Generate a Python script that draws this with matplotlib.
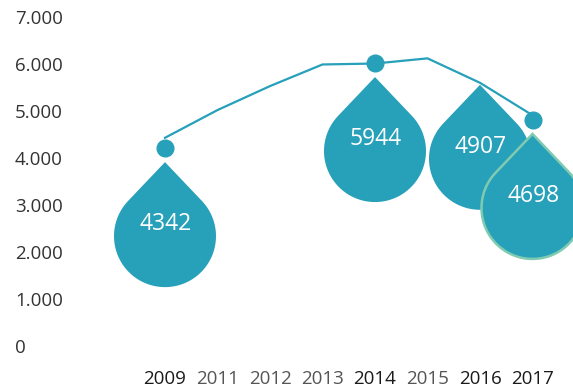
import numpy as np
import matplotlib
matplotlib.use('Agg')
import matplotlib.pyplot as plt
from matplotlib.path import Path
from matplotlib.patches import PathPatch
from matplotlib.transforms import Affine2D, ScaledTranslation

plt.rcParams['font.family'] = ['Open Sans', 'DejaVu Sans']

# data
years = ['2009', '2011', '2012', '2013', '2014', '2015', '2016', '2017']
line_values = [4430, 5020, 5530, 5990, 6010, 6120, 5600, 4910]
dot_years = ['2009', '2014', '2017']
dot_values = [4210, 6020, 4810]
drop_years = ['2009', '2014', '2016', '2017']
drop_anchor = [4210, 6020, 5600, 4810]
drop_labels = [4342, 5944, 4907, 4698]
highlight = ['2009', '2014', '2016', '2017']
yticks = [0, 1000, 2000, 3000, 4000, 5000, 6000, 7000]
ytick_labels = ['0', '1.000', '2.000', '3.000', '4.000', '5.000', '6.000', '7.000']

teal = '#27a0b9'
mint = '#7fcbb2'

W, H = 573, 387
fig = plt.figure(figsize=(W / 100, H / 100), dpi=100)
# axes: category 0 at x=165px, 52.5px per step; y 0 at 346px, 7000 at 17px
left_px, right_px = 100, 573
ax = fig.add_axes([left_px / W, (H - 346) / H, (right_px - left_px) / W, 329 / H])
ax.set_xlim((left_px - 165) / 52.5, (right_px - 165) / 52.5)
ax.set_ylim(0, 7000)
for s in ax.spines.values():
    s.set_visible(False)

xi = np.arange(len(years))
pos = {y: i for i, y in enumerate(years)}

# drop shape in pixels: circle r=51, tip 74px above the centre
r, d = 51.0, 74.0
phi = np.arccos(r / d)
a0 = np.pi / 2 - phi
ang = np.linspace(a0, a0 - (2 * np.pi - 2 * phi), 80)
verts = [(0, d)] + [(r * np.cos(a), r * np.sin(a)) for a in ang] + [(0, d)]
codes = [Path.MOVETO] + [Path.LINETO] * (len(verts) - 2) + [Path.CLOSEPOLY]
drop_path = Path(verts, codes)

for yr, v, lab in zip(drop_years, drop_anchor, drop_labels):
    gap = 2 if yr == '2016' else 14
    tr = Affine2D().translate(0, -gap - d) + ScaledTranslation(pos[yr], v, ax.transData)
    if yr == '2017':
        patch = PathPatch(drop_path, facecolor=teal, edgecolor=mint, lw=1.8,
                          transform=tr, zorder=2, clip_on=False)
    else:
        patch = PathPatch(drop_path, facecolor=teal, edgecolor='none',
                          transform=tr, zorder=2, clip_on=False)
    ax.add_patch(patch)
    ax.annotate(str(lab), (pos[yr], v), xytext=(1, -gap - d + 12),
                textcoords='offset pixels', ha='center', va='center',
                color='white', fontsize=16.5, zorder=4)

ax.plot(xi, line_values, color=teal, lw=1.6, zorder=3, solid_joinstyle='miter')
ax.plot([pos[y] for y in dot_years], dot_values, 'o', color=teal,
        markersize=12, zorder=3)

ax.set_xticks(xi)
ax.set_xticklabels(years, fontsize=13.5)
for t in ax.get_xticklabels():
    t.set_color('#1a1a1a' if t.get_text() in highlight else '#555555')
ax.set_yticks(yticks)
ax.set_yticklabels(ytick_labels, fontsize=13.5, color='#333333', ha='left')
ax.tick_params(axis='x', length=0, pad=17)
ax.tick_params(axis='y', length=0, pad=(left_px - 15) * 0.72)

fig.savefig('out.png', dpi=100)
